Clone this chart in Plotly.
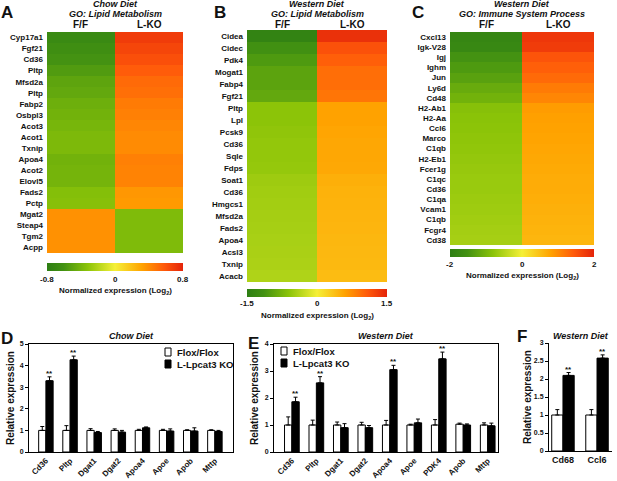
import plotly.graph_objects as go

W, H = 617, 481

# ---- heatmap data (F/F column; L-KO is the mirror) ----
genes_a = ['Cyp17a1', 'Fgf21', 'Cd36', 'Pltp', 'Mfsd2a', 'Pltp', 'Fabp2', 'Osbpl3', 'Acot3', 'Acot1',
           'Txnip', 'Apoa4', 'Acot2', 'Elovl5', 'Fads2', 'Pctp', 'Mgat2', 'Steap4', 'Tgm2', 'Acpp']
ff_a = [-0.68, -0.64, -0.6, -0.55, -0.5, -0.48, -0.44, -0.42, -0.4, -0.38,
        -0.38, -0.42, -0.41, -0.41, -0.35, -0.34, 0.38, 0.38, 0.38, 0.38]
ko_a = [0.7, 0.66, 0.62, 0.57, 0.52, 0.5, 0.46, 0.44, 0.42, 0.4,
        0.4, 0.44, 0.43, 0.43, 0.36, 0.35, -0.37, -0.37, -0.37, -0.37]

genes_b = ['Cidea', 'Cidec', 'Pdk4', 'Mogat1', 'Fabp4', 'Fgf21', 'Pltp', 'Lpl', 'Pcsk9', 'Cd36', 'Sqle',
           'Fdps', 'Soat1', 'Cd36', 'Hmgcs1', 'Mfsd2a', 'Fads2', 'Apoa4', 'Acsl3', 'Txnip', 'Acacb']
ff_b = [-1.4, -1.15, -1.05, -0.95, -0.95, -0.9, -0.6, -0.6, -0.58, -0.56, -0.56,
        -0.55, -0.5, -0.48, -0.47, -0.46, -0.45, -0.44, -0.43, -0.42, -0.4]
ko_b = [1.4, 1.15, 1.05, 0.95, 0.95, 0.9, 0.6, 0.6, 0.58, 0.56, 0.56,
        0.55, 0.5, 0.48, 0.47, 0.46, 0.45, 0.44, 0.43, 0.42, 0.4]

genes_c = ['Cxcl13', 'Igk-V28', 'Igj', 'Ighm', 'Jun', 'Ly6d', 'Cd48', 'H2-Ab1', 'H2-Aa', 'Ccl6', 'Marco',
           'C1qb', 'H2-Eb1', 'Fcer1g', 'C1qc', 'Cd36', 'C1qa', 'Vcam1', 'C1qb', 'Fcgr4', 'Cd38']
ff_c = [-1.8, -1.75, -1.5, -1.4, -1.3, -1.15, -1.05, -0.85, -0.82, -0.8, -0.78,
        -0.76, -0.74, -0.72, -0.7, -0.7, -0.68, -0.66, -0.64, -0.62, -0.6]
ko_c = [1.8, 1.75, 1.5, 1.4, 1.3, 1.15, 1.05, 0.85, 0.82, 0.8, 0.78,
        0.76, 0.74, 0.72, 0.7, 0.7, 0.68, 0.66, 0.64, 0.62, 0.6]

# ---- qPCR bar data ----
genes_d = ['Cd36', 'Pltp', 'Dgat1', 'Dgat2', 'Apoa4', 'Apoe', 'Apob', 'Mttp']
flox_d = [1.0, 1.0, 1.0, 1.0, 1.0, 1.0, 1.0, 1.0]
flox_d_err = [0.18, 0.22, 0.08, 0.07, 0.05, 0.05, 0.03, 0.03]
ko_d = [3.3, 4.27, 0.9, 0.92, 1.12, 0.97, 0.97, 0.95]
ko_d_err = [0.18, 0.17, 0.05, 0.08, 0.04, 0.1, 0.15, 0.05]
sig_d = ['**', '**', '', '', '', '', '', '']

genes_e = ['Cd36', 'Pltp', 'Dgat1', 'Dgat2', 'Apoa4', 'Apoe', 'PDK4', 'Apob', 'Mttp']
flox_e = [1.0, 1.0, 1.0, 1.0, 1.0, 1.0, 1.0, 1.03, 1.0]
flox_e_err = [0.3, 0.18, 0.11, 0.1, 0.17, 0.03, 0.2, 0.04, 0.08]
ko_e = [1.86, 2.56, 0.9, 0.9, 3.05, 1.08, 3.45, 1.0, 0.97]
ko_e_err = [0.17, 0.23, 0.15, 0.08, 0.16, 0.14, 0.25, 0.04, 0.1]
sig_e = ['**', '**', '', '', '**', '', '**', '', '']

genes_f = ['Cd68', 'Ccl6']
flox_f = [1.0, 1.0]
flox_f_err = [0.15, 0.15]
ko_f = [2.1, 2.58]
ko_f_err = [0.08, 0.09]
sig_f = ['**', '**']

cscale = [[0.0, 'rgb(45,126,20)'], [0.12, 'rgb(66,145,18)'], [0.3, 'rgb(140,196,8)'],
          [0.5, 'rgb(245,240,55)'], [0.7, 'rgb(255,162,0)'], [0.86, 'rgb(255,90,10)'],
          [1.0, 'rgb(228,36,10)']]

FONT = 'Arial, Liberation Sans, sans-serif'
INK = '#111111'


def X(p):
    return p / W


def Y(p):
    return 1 - p / H


fig = go.Figure()
annots = []
shapes = []


def text(x, y, s, size=8, bold=True, italic=False, ref=('paper', 'paper'), **kw):
    a = dict(x=x, y=y, xref=ref[0], yref=ref[1], text=s, showarrow=False,
             xanchor='center', yanchor='middle',
             font=dict(family=FONT, size=size, color=INK,
                       weight='bold' if bold else 'normal',
                       style='italic' if italic else 'normal'))
    a.update(kw)
    annots.append(a)


heat = [
    (genes_a, ff_a, ko_a, 0.8, ['-0.8', '0', '0.8'], (47, 183, 32, 253), 263, 279, 291,
     'Chow Diet', 'GO: Lipid Metabolism', 'A', 7),
    (genes_b, ff_b, ko_b, 1.5, ['-1.5', '0', '1.5'], (247, 387, 30, 282), 289, 303, 316,
     'Western Diet', 'GO: Lipid Metabolism', 'B', 220),
    (genes_c, ff_c, ko_c, 2.0, ['-2', '0', '2'], (450, 594, 32, 245), 249, 264, 276,
     'Western Diet', 'GO: Immune System Process', 'C', 418),
]

for k, (genes, ff, ko, zm, tt, box, cb_y, tk_y, ttl_y, t1, t2, lab, lab_x) in enumerate(heat):
    n = k + 1
    x0, x1, y0, y1 = box
    z = [[a, b] for a, b in zip(ff, ko)]
    fig.add_trace(go.Heatmap(
        z=z, x=[0, 1], y=list(range(len(genes))), zmin=-zm, zmax=zm,
        colorscale=cscale, xaxis='x%d' % n, yaxis='y%d' % n, hoverinfo='skip',
        colorbar=dict(orientation='h', x=X((x0 + x1) / 2), xanchor='center',
                      y=Y(cb_y), yanchor='top', len=(x1 - x0) / W, lenmode='fraction',
                      thickness=8, thicknessmode='pixels', xpad=0, ypad=0,
                      outlinewidth=0, tickvals=[-zm, 0, zm], ticks='',
                      showticklabels=False)))
    fig.update_layout(**{
        'xaxis%d' % n: dict(domain=[X(x0), X(x1)], range=[-0.5, 1.5], visible=False,
                            anchor='y%d' % n, automargin=False),
        'yaxis%d' % n: dict(domain=[Y(y1), Y(y0)], range=[len(genes) - 0.5, -0.5],
                            anchor='x%d' % n, tickvals=list(range(len(genes))), ticktext=genes,
                            ticks='', showline=False, showgrid=False, zeroline=False,
                            automargin=False,
                            tickfont=dict(family=FONT, size=8, color=INK, weight='bold'),
                            ticklabelstandoff=3),
    })
    cx = (x0 + x1) / 2
    text(X(cx), Y(4), t1, size=9, italic=True)
    text(X(cx), Y(14), t2, size=9, italic=True)
    text(X(x0 + (x1 - x0) / 4), Y(25), 'F/F', size=10)
    text(X(x0 + 3 * (x1 - x0) / 4), Y(25), 'L-KO', size=10)
    text(X(lab_x), Y(12), lab, size=17)
    for v, s in zip([x0, cx, x1], tt):
        text(X(v), Y(tk_y), s, size=8)
    text(X(cx), Y(ttl_y), 'Normalized expression (Log<sub>2</sub>)', size=8)

bars = [
    (genes_d, flox_d, flox_d_err, ko_d, ko_d_err, sig_d, (29, 233, 344, 452), [-0.7, 7.75],
     5, 0.3, 'Chow Diet', 'D', (7, 338), 10, True, True),
    (genes_e, flox_e, flox_e_err, ko_e, ko_e_err, sig_e, (274, 498, 344, 452), [-0.73, 8.42],
     4, 0.3, 'Western Diet', 'E', (253, 343), 254, True, True),
    (genes_f, flox_f, flox_f_err, ko_f, ko_f_err, sig_f, (549, 612, 343, 451), [-0.41, 1.44],
     3, 0.33, 'Western Diet', 'F', (522, 336), 527, False, False),
]

for k, (genes, fl, fle, ko, koe, sig, box, xr, ymax, bw, ttl, lab, labpos, yt_x, rot, box_on) in enumerate(bars):
    n = k + 4
    x0, x1, y0, y1 = box
    idx = list(range(len(genes)))
    fig.add_trace(go.Bar(
        x=idx, y=fl, width=bw, offset=-bw, xaxis='x%d' % n, yaxis='y%d' % n,
        marker=dict(color='white', line=dict(color='black', width=1)),
        error_y=dict(type='data', array=fle, arrayminus=[0] * len(fl), symmetric=False,
                     color='black', thickness=1, width=2),
        showlegend=False))
    fig.add_trace(go.Bar(
        x=idx, y=ko, width=bw, offset=0, xaxis='x%d' % n, yaxis='y%d' % n,
        marker=dict(color='black', line=dict(color='black', width=1)),
        error_y=dict(type='data', array=koe, arrayminus=[0] * len(ko), symmetric=False,
                     color='black', thickness=1, width=2),
        showlegend=False))
    if ymax == 3:
        tv = [0, 0.5, 1, 1.5, 2, 2.5, 3]
    else:
        tv = list(range(ymax + 1))
    fig.update_layout(**{
        'xaxis%d' % n: dict(domain=[X(x0), X(x1)], range=xr, anchor='y%d' % n,
                            tickvals=idx, ticktext=genes, tickangle=-45 if rot else 0,
                            ticks='', showgrid=False, zeroline=False, showline=True,
                            linecolor='black', linewidth=1, mirror=box_on, automargin=False,
                            tickfont=dict(family=FONT, size=8 if rot else 9, color=INK,
                                          weight='bold')),
        'yaxis%d' % n: dict(domain=[Y(y1), Y(y0)], range=[0, ymax], anchor='x%d' % n,
                            tickvals=tv, ticks='outside', ticklen=3, tickcolor='black',
                            showgrid=False, zeroline=False, showline=True, automargin=False,
                            linecolor='black', linewidth=1, mirror=box_on,
                            tickfont=dict(family=FONT, size=7, color=INK, weight='bold')),
    })
    for i, s in enumerate(sig):
        if s:
            text(i + bw / 2, ko[i] + koe[i], s, size=8, ref=('x%d' % n, 'y%d' % n),
                 yanchor='bottom', yshift=-3)
    text(X((x0 + x1) / 2), Y(336), ttl, size=9, italic=True)
    text(X(labpos[0]), Y(labpos[1]), lab, size=17)
    text(X(yt_x), Y((y0 + y1) / 2), 'Relative expression', size=10, textangle=-90)

# legends for D and E
for sx, sy in [(168, 352), (284, 351)]:
    for j, (fill, name) in enumerate([('white', 'Flox/Flox'), ('black', 'L-Lpcat3 KO')]):
        yy = sy + j * 12
        shapes.append(dict(type='rect', xref='paper', yref='paper',
                           x0=X(sx - 3), x1=X(sx + 3), y0=Y(yy + 4), y1=Y(yy - 4),
                           fillcolor=fill, line=dict(color='black', width=1)))
        text(X(sx + 7), Y(yy), name, size=9.5, xanchor='left')

fig.update_layout(width=W, height=H, margin=dict(l=0, r=0, t=0, b=0, autoexpand=False),
                  paper_bgcolor='white', plot_bgcolor='white', barmode='overlay',
                  annotations=annots, shapes=shapes, showlegend=False)
fig.write_html('out.html', config={'displayModeBar': False},
               post_script="document.body.style.margin='0';")
